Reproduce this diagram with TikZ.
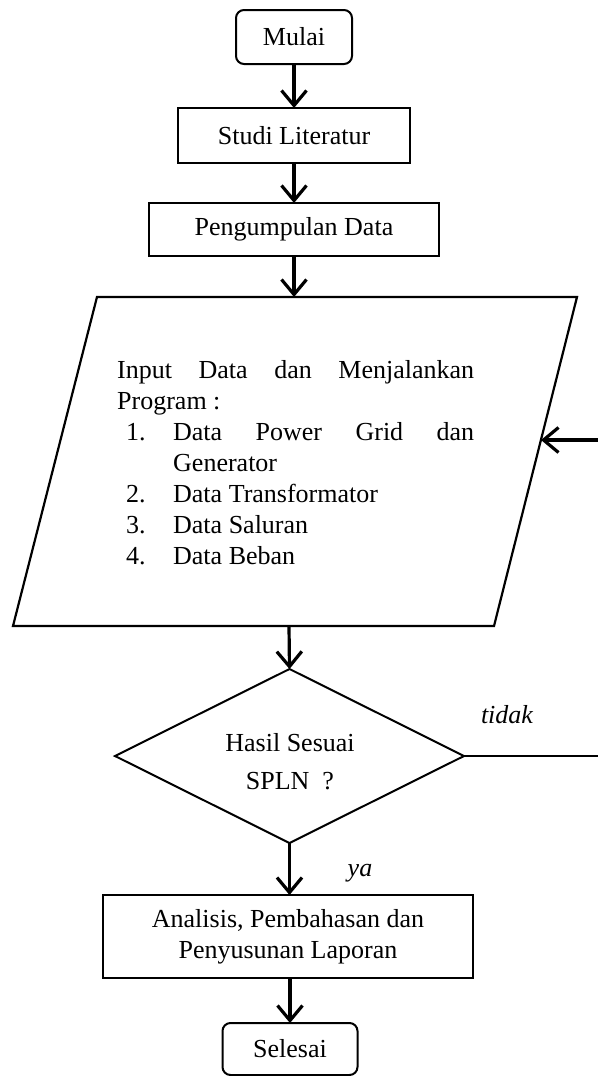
\documentclass[tikz,border=0pt]{standalone}
\usepackage{fontspec}
\setmainfont{Liberation Serif}
\usetikzlibrary{arrows.meta,shapes.geometric}
\begin{document}
\begin{tikzpicture}[x=1pt,y=-1pt,
  txt/.style={font=\fontsize{26}{29}\selectfont},
  box/.style={txt,draw,line width=2pt,inner sep=0pt,outer sep=0pt,align=center},
  term/.style={box,rounded corners=8pt},
  arr/.style={line width=3.2pt,-{Straight Barb[length=15pt,width=25pt,line width=3.2pt]}},
  plain/.style={line width=2pt}]
\useasboundingbox (0,0) rectangle (597,1076);

% nodes
\node[term,minimum width=116,minimum height=54] (mulai) at (294,37) {Mulai};
\node[box,minimum width=232,minimum height=55] (studi) at (294,135.5) {Studi Literatur};
\node[box,minimum width=290,minimum height=53] (peng) at (294,229.5) {Pengumpulan Data};

% parallelogram
\coordinate (ptl) at (97,297);
\coordinate (ptr) at (577,297);
\coordinate (pbr) at (494,626);
\coordinate (pbl) at (13,626);
\coordinate (ptop) at (294,297);
\coordinate (pbot) at (289,626);
\coordinate (pin) at (541,440);
\draw[line width=2.2pt,line join=miter] (ptl) -- (ptr) -- (pbr) -- (pbl) -- cycle;
\node[txt,anchor=base west,inner sep=0pt] (input) at (117,378) {\parbox[t]{357pt}{%
  \baselineskip=31pt\lineskiplimit=-20pt
  \hbox to 357pt{Input\hfill Data\hfill dan\hfill Menjalankan}
  \hbox{Program :}
  \hbox{\hbox to 56pt{\hspace{9pt}1.\hfill}\hbox to 301pt{Data\hfill Power\hfill Grid\hfill dan}}
  \hbox{\hspace{56pt}Generator}
  \hbox{\hbox to 56pt{\hspace{9pt}2.\hfill}Data Transformator}
  \hbox{\hbox to 56pt{\hspace{9pt}3.\hfill}Data Saluran}
  \hbox{\hbox to 56pt{\hspace{9pt}4.\hfill}Data Beban}}};

\node[draw,diamond,line width=2pt,inner sep=0pt,outer sep=0pt,aspect=2,
      minimum width=349,minimum height=174] (dia) at (289.5,756) {};
\node[txt,align=center,inner sep=0pt] (diatext) at (290,762)
      {Hasil Sesuai\\[9pt]SPLN\ \ ?};

\node[box,minimum width=370,minimum height=83] (anal) at (288,936.5)
      {Analisis, Pembahasan dan\\[2pt]Penyusunan Laporan};
\node[term,minimum width=135,minimum height=52] (sel) at (290,1049) {Selesai};

\node[txt,anchor=base,font=\fontsize{26}{29}\selectfont\itshape] (ya) at (360,876) {ya};
\node[txt,anchor=base,font=\fontsize{26}{29}\selectfont\itshape] (tidak) at (507,723) {tidak};

% connectors
\draw[arr] (mulai.south) -- (mulai.south |- studi.north);
\draw[arr] (studi.south) -- (studi.south |- peng.north);
\draw[arr] (peng.south) -- (ptop);
\draw[arr] (pbot) -- (dia.north);
\draw[arr] (dia.south) -- (dia.south |- anal.north);
\draw[arr] (anal.south -| sel.north) -- (sel.north);

\coordinate (loopA) at (600,756);
\coordinate (loopB) at (600,440);
\draw[plain] (dia.east) -- (loopA);
\draw[arr] (loopB) -- (pin);
\end{tikzpicture}
\end{document}
